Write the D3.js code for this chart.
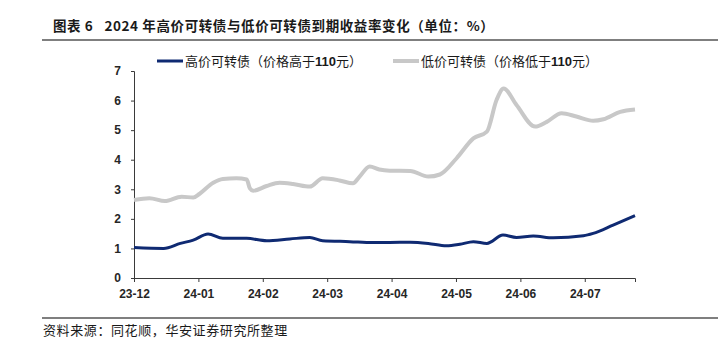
<!DOCTYPE html>
<html>
<head>
<meta charset="utf-8">
<script src="https://cdn.jsdelivr.net/npm/d3@7"></script>
<style>
  body { margin: 0; background: #fff; }
  svg { display: block; }
  .cjk { font-family: "Noto Sans CJK SC", "Liberation Sans", sans-serif; white-space: pre; }
  .num { font-family: "Liberation Sans", Arial, sans-serif; font-weight: bold; }
  .axis text { font-family: "Liberation Sans", Arial, sans-serif; font-weight: bold; font-size: 12px; fill: #262626; }
  .axis path, .axis line { stroke: #3a3a3a; }
</style>
</head>
<body>
<svg id="chart" width="726" height="353"></svg>
<script>
// x 값은 "23-12 이후 몇 번째 달" (눈금 간격 = 1달)
const monthLabels = ["23-12", "24-01", "24-02", "24-03", "24-04", "24-05", "24-06", "24-07"];
const seriesNames = [["高价可转债（价格高于", "110", "元）"], ["低价可转债（价格低于", "110", "元）"]];

const highX = [0, 0.46, 0.72, 0.92, 1.15, 1.38, 1.75, 2.06, 2.42, 2.73, 2.93, 3.35, 3.71, 3.97, 4.29, 4.57, 4.85, 5.06, 5.27, 5.48, 5.73, 5.94, 6.2, 6.51, 6.98, 7.13, 7.44, 7.78];
const highY = [1.03, 1.0, 1.17, 1.28, 1.49, 1.34, 1.34, 1.26, 1.32, 1.37, 1.26, 1.23, 1.2, 1.2, 1.21, 1.17, 1.09, 1.14, 1.23, 1.17, 1.45, 1.37, 1.42, 1.36, 1.43, 1.51, 1.79, 2.11];

const lowX = [0, 0.24, 0.48, 0.74, 0.92, 1.02, 1.23, 1.38, 1.59, 1.75, 1.8, 1.85, 2.06, 2.26, 2.47, 2.73, 2.93, 3.19, 3.4, 3.5, 3.66, 3.81, 3.97, 4.29, 4.57, 4.75, 5.01, 5.27, 5.48, 5.63, 5.74, 5.94, 6.23, 6.41, 6.64, 6.87, 7.13, 7.29, 7.55, 7.78];
const lowY = [2.64, 2.7, 2.6, 2.75, 2.72, 2.85, 3.22, 3.35, 3.37, 3.33, 3.03, 2.95, 3.11, 3.22, 3.18, 3.09, 3.37, 3.3, 3.2, 3.42, 3.77, 3.67, 3.63, 3.62, 3.43, 3.5, 4.05, 4.72, 4.95, 6.02, 6.41, 5.85, 5.12, 5.28, 5.57, 5.46, 5.32, 5.37, 5.62, 5.7];

const yTicks = [0, 1, 2, 3, 4, 5, 6, 7];

const svg = d3.select("#chart");
const x = d3.scaleLinear().domain([0, 7.78]).range([134, 635]);
const y = d3.scaleLinear().domain([0, 7]).range([278, 71]);

// 제목
svg.append("text").attr("class", "cjk").attr("x", 53).attr("y", 31)
   .style("font-size", "13.5px").style("font-weight", "bold").style("letter-spacing", "0.6px").style("fill", "#1a1a1a")
   .text("图表 6   2024 年高价可转债与低价可转债到期收益率变化（单位：%）");
svg.append("line").attr("x1", 42).attr("x2", 718).attr("y1", 40).attr("y2", 40)
   .attr("stroke", "#555").attr("stroke-width", 1.5);

// 축
svg.append("g").attr("class", "axis").attr("transform", "translate(134,0)")
   .call(d3.axisLeft(y).tickValues(yTicks).tickFormat(d3.format("d")).tickSize(3).tickPadding(10));
svg.append("g").attr("class", "axis").attr("transform", "translate(0,278)")
   .call(d3.axisBottom(x).tickValues(d3.range(monthLabels.length)).tickFormat(i => monthLabels[i]).tickSize(4).tickPadding(7));

// 선
const line = d3.line().x(d => x(d[0])).y(d => y(d[1])).curve(d3.curveMonotoneX);
svg.append("path").datum(d3.zip(lowX, lowY)).attr("d", line)
   .attr("fill", "none").attr("stroke", "#c8c8c8").attr("stroke-width", 4).attr("stroke-linejoin", "round");
svg.append("path").datum(d3.zip(highX, highY)).attr("d", line)
   .attr("fill", "none").attr("stroke", "#0f2a72").attr("stroke-width", 3).attr("stroke-linejoin", "round");

// 범례
const legendItems = [
  { name: seriesNames[0], color: "#0f2a72", w: 3, x: 157 },
  { name: seriesNames[1], color: "#c8c8c8", w: 4, x: 393 }
];
legendItems.forEach(d => {
  svg.append("line").attr("x1", d.x).attr("x2", d.x + 26).attr("y1", 61).attr("y2", 61)
     .attr("stroke", d.color).attr("stroke-width", d.w);
  const t = svg.append("text").attr("class", "cjk").attr("x", d.x + 28).attr("y", 65.5)
     .style("font-size", "13px").style("fill", "#1a1a1a");
  t.append("tspan").text(d.name[0]);
  t.append("tspan").attr("class", "num").text(d.name[1]);
  t.append("tspan").text(d.name[2]);
});

// 하단
svg.append("line").attr("x1", 42).attr("x2", 718).attr("y1", 318).attr("y2", 318)
   .attr("stroke", "#555").attr("stroke-width", 1.5);
svg.append("text").attr("class", "cjk").attr("x", 43).attr("y", 335)
   .style("font-size", "13px").style("letter-spacing", "0.6px").style("fill", "#1a1a1a")
   .text("资料来源：同花顺，华安证券研究所整理");
</script>
</body>
</html>
